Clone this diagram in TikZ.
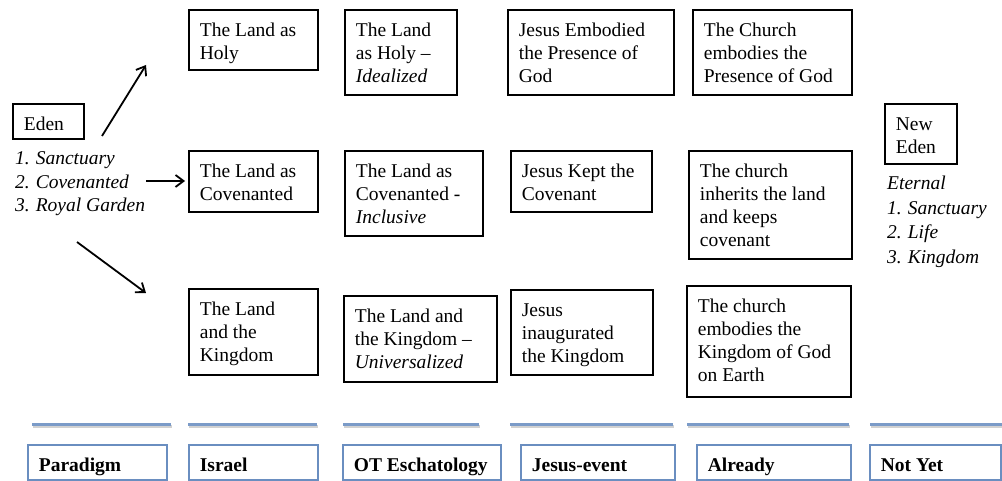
\documentclass[tikz,border=0pt]{standalone}
\usepackage{fontspec}
\setmainfont{Liberation Serif}
\usetikzlibrary{arrows.meta}
\definecolor{hblue}{HTML}{7B9BC8}
\definecolor{bblue}{HTML}{6A8EC0}
\newcommand\cbx[7]{\node[#1] (#2) at (#3,#4) {\parbox[t][#6pt][t]{\dimexpr#5pt-22pt\relax}{\raggedright\rule{0pt}{27pt}#7}};}
\begin{document}
\begin{tikzpicture}[x=1pt,y=-1pt,
  cbox/.style={draw=black, line width=1.8pt, inner xsep=11pt, inner ysep=0pt, anchor=north west, font=\fontsize{19.5}{23}\selectfont},
  bbox/.style={draw=bblue, line width=1.8pt, inner xsep=11pt, inner ysep=0pt, anchor=north west, font=\fontsize{19.5}{23}\selectfont\bfseries},
  lst/.style={inner sep=0pt, anchor=base west, font=\fontsize{19.5}{23.5}\selectfont\itshape},
  arr/.style={line width=1.8pt, -{Straight Barb[length=8pt,width=12pt,line width=1.8pt]}},
  hline/.style={draw=hblue, line width=3pt},
  hshadow/.style={draw=black!18, line width=2.5pt}]
\useasboundingbox (0,0) rectangle (1002,481);
% Eden
\cbx{cbox}{eden}{12}{103}{71}{35}{Eden}
\node[lst] (edenlist) at (15,165) {\parbox[t]{150pt}{1.\hspace{6pt}Sanctuary\\2.\hspace{6pt}Covenanted\\3.\hspace{6pt}Royal Garden}};
% Israel
\cbx{cbox}{holyI}{188}{9}{129}{60}{The Land as\\Holy}
\cbx{cbox}{covI}{188}{150}{129}{61}{The Land as\\Covenanted}
\cbx{cbox}{kingI}{188}{288}{129}{86}{The Land\\and the\\Kingdom}
% OT
\cbx{cbox}{holyO}{344}{9}{112}{85}{The Land\\as Holy --\\\textit{Idealized}}
\cbx{cbox}{covO}{344}{150}{138}{85}{The Land as\\Covenanted -\\\textit{Inclusive}}
\cbx{cbox}{kingO}{343}{295}{153}{86}{The Land and\\the Kingdom --\\\textit{Universalized}}
% Jesus
\cbx{cbox}{holyJ}{507}{9}{166}{85}{Jesus Embodied\\the Presence of\\God}
\cbx{cbox}{covJ}{510}{150}{141}{61}{Jesus Kept the\\Covenant}
\cbx{cbox}{kingJ}{510}{289}{142}{85}{Jesus\\inaugurated\\the Kingdom}
% Church
\cbx{cbox}{holyC}{692}{9}{159}{85}{The Church\\embodies the\\Presence of God}
\cbx{cbox}{covC}{688}{150}{163}{108}{The church\\inherits the land\\and keeps\\covenant}
\cbx{cbox}{kingC}{686}{285}{164}{111}{The church\\embodies the\\Kingdom of God\\on Earth}
% New Eden
\cbx{cbox}{neweden}{884}{103}{72}{60}{New\\Eden}
\node[lst] (newedenlist) at (887,190) {\parbox[t]{120pt}{\baselineskip=24.5pt Eternal\\1.\hspace{6pt}Sanctuary\\2.\hspace{6pt}Life\\3.\hspace{6pt}Kingdom}};
% arrows
\coordinate (a1s) at (102,136); \coordinate (a1e) at (146,65);
\coordinate (a2s) at (146,181); \coordinate (a2e) at (185,181);
\coordinate (a3s) at (77,242);  \coordinate (a3e) at (146,293);
\draw[arr] (a1s) -- (a1e);
\draw[arr] (a2s) -- (a2e);
\draw[arr] (a3s) -- (a3e);
% horizontal lines (with a faint shadow)
\foreach \xa/\xb in {32/171,188/317,343/479,510/673,687/849,870/1002}{
  \draw[hshadow] (\xa+1,426.5) -- (\xb+1,426.5);
  \draw[hline] (\xa,424) -- (\xb,424);
}
% bottom boxes
\cbx{bbox}{pb}{27}{444}{139}{35}{Paradigm}
\cbx{bbox}{ib}{188}{444}{129}{35}{Israel}
\cbx{bbox}{ob}{342}{444}{158}{35}{OT Eschatology}
\cbx{bbox}{jb}{520}{444}{154}{35}{Jesus-event}
\cbx{bbox}{ab}{696}{444}{154}{35}{Already}
\cbx{bbox}{nb}{869}{444}{131}{35}{Not Yet}
\end{tikzpicture}
\end{document}
